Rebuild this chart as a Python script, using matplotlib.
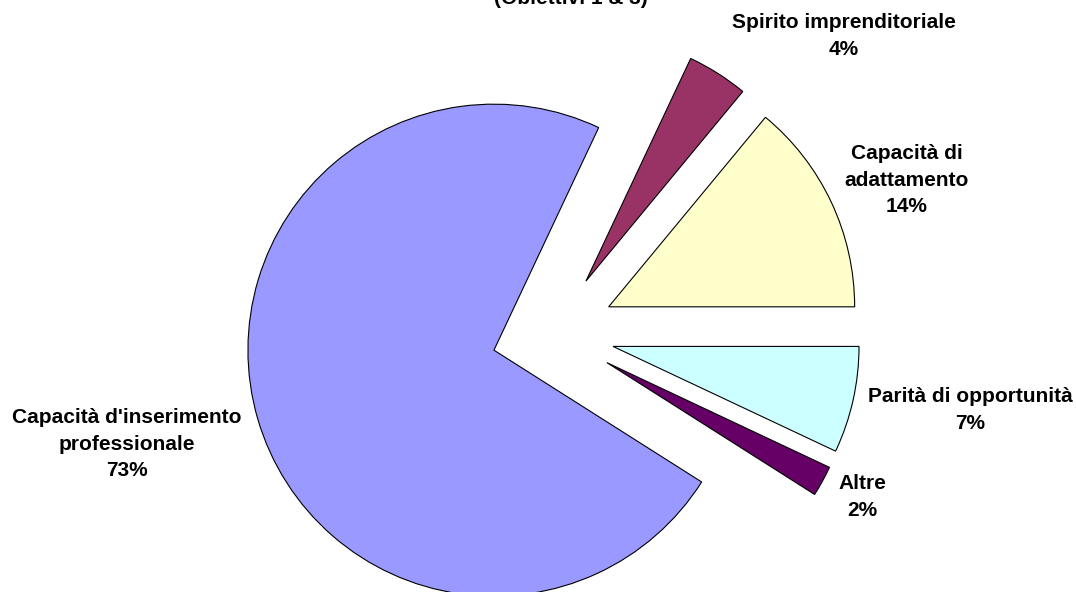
import matplotlib
matplotlib.use("Agg")
import matplotlib.pyplot as plt

# slices in counter-clockwise order starting from 3 o'clock
categories = ["Capacità di\nadattamento", "Spirito imprenditoriale",
              "Capacità d'inserimento\nprofessionale", "Altre",
              "Parità di opportunità"]
values = [14, 4, 73, 2, 7]
colors = ["#FFFFCC", "#993366", "#9999FF", "#660066", "#CCFFFF"]

# label centres in pixels (x, y from top)
label_pos = [(907, 180), (844, 36), (127, 444), (862, 497), (970, 410)]

W, H = 1077, 592
cx, cy, R = 553, 333, 246

fig = plt.figure(figsize=(W / 100, H / 100), dpi=100)
ax = fig.add_axes([0, 0, 1, 1])

ax.pie(values, colors=colors, explode=[0.25] * len(values), startangle=0,
       counterclock=True, radius=1,
       wedgeprops=dict(edgecolor="black", linewidth=0.8))
ax.set_xlim(-cx / R, (W - cx) / R)
ax.set_ylim(-(H - cy) / R, cy / R)
ax.set_aspect("equal")
ax.axis("off")

font = dict(family=["Liberation Sans", "DejaVu Sans"], fontsize=15,
            fontweight="bold", ha="center", va="center", linespacing=1.5)

for cat, val, (px, py) in zip(categories, values, label_pos):
    fig.text(px / W, 1 - py / H, f"{cat}\n{val}%", **font)

# chart title, mostly cut off at the top edge as in the original
fig.text(571 / W, 1 + 2 / H, "(Obiettivi 1 & 3)", **font)

fig.savefig("out.png", dpi=100)
